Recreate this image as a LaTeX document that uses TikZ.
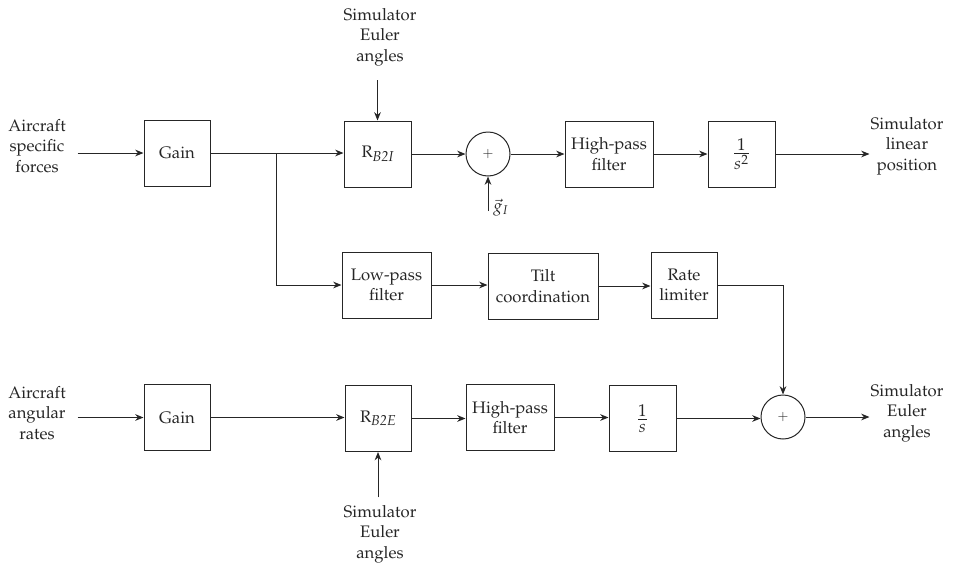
\documentclass[tikz,border=0pt]{standalone}
\usepackage[T1]{fontenc}
\usepackage{mathpazo}
\usetikzlibrary{arrows.meta}
\newcommand\rsubx[1]{R\raisebox{-0.45ex}{\fontsize{8.6}{10}\selectfont\itshape #1}}
\newcommand\fracx[2]{{\fontsize{13.5}{15}\selectfont$\frac{#1}{#2}$}}
\begin{document}
\begin{tikzpicture}[x=0.6pt,y=-0.6pt,
  every node/.style={font=\fontsize{10}{12.3}\selectfont, text=black!85},
  blk/.style={draw=black!85, line width=0.6pt, align=center, inner sep=0pt, minimum height=39.6pt},
  sumnode/.style={draw=black!85, line width=0.6pt, circle, inner sep=0pt, minimum size=26.4pt, font=\fontsize{8}{9}\selectfont},
  lbl/.style={align=center, inner sep=0pt},
  arr/.style={draw=black!85, line width=0.6pt, -{Stealth[length=5pt,width=4pt]}},
  ln/.style={draw=black!85, line width=0.6pt}]
\useasboundingbox (0,0) rectangle (954,564);
% top row
\node[lbl, inner xsep=7pt] (in1) at (37,146) {Aircraft\\specific\\forces};
\node[blk, minimum width=39.6pt] (gain1) at (177,153) {Gain};
\node[blk, minimum width=40.2pt] (rb2i) at (377.5,154) {\rsubx{B2I}};
\node[lbl, inner ysep=8.5pt] (eul1) at (380,37) {Simulator\\Euler\\angles};
\node[sumnode] (sum1) at (488,154) {$+$};
\node[blk, minimum width=52.8pt] (hp1) at (609,154) {High-pass\\filter};
\node[blk, minimum width=40.2pt] (s2) at (741.5,154) {\fracx{1}{s^2}};
\node[lbl, inner xsep=0.5pt] (out1) at (907,146) {Simulator\\linear\\position};
\coordinate (gin) at (488,211);
\node[anchor=west, inner sep=0pt] (glbl) at (493,208) {$\vec{g}_I$};
\coordinate (br) at (276,153);
% middle row
\node[blk, minimum width=53.4pt] (lp) at (386.5,285) {Low-pass\\filter};
\node[blk, minimum width=66pt] (tilt) at (543,286) {Tilt\\coordination};
\node[blk, minimum width=39.6pt] (rate) at (684,285) {Rate\\limiter};
% bottom row
\node[lbl, inner xsep=7pt] (in2) at (37,413) {Aircraft\\angular\\rates};
\node[blk, minimum width=39.6pt] (gain2) at (177,417.5) {Gain};
\node[blk, minimum width=39.6pt] (rb2e) at (378,418.5) {\rsubx{B2E}};
\node[lbl, inner ysep=4.5pt] (eul2) at (380,534) {Simulator\\Euler\\angles};
\node[blk, minimum width=52.8pt] (hp2) at (510,417.5) {High-pass\\filter};
\node[blk, minimum width=40.2pt] (s1) at (642.5,418.5) {\fracx{1}{s}};
\node[sumnode] (sum2) at (783,417) {$+$};
\node[lbl, inner xsep=0.5pt] (out2) at (907,413) {Simulator\\Euler\\angles};
% connectors top
\draw[arr] (in1.east |- gain1.west) -- (gain1.west);
\draw[arr] (gain1.east) -- (gain1.east -| rb2i.west);
\draw[arr] (eul1.south -| rb2i.north) -- (rb2i.north);
\draw[arr] (rb2i.east) -- (sum1.west);
\draw[arr] (gin) -- (sum1.south);
\draw[arr] (sum1.east) -- (hp1.west);
\draw[arr] (hp1.east) -- (s2.west);
\draw[arr] (s2.east) -- (s2.east -| out1.west);
% middle
\draw[arr] (br) |- (lp.west);
\draw[arr] (lp.east) -- (lp.east -| tilt.west);
\draw[arr] (tilt.east) -- (tilt.east -| rate.west);
\draw[arr] (rate.east) -| (sum2.north);
% bottom
\draw[arr] (in2.east |- gain2.west) -- (gain2.west);
\draw[arr] (gain2.east) -- (gain2.east -| rb2e.west);
\draw[arr] (eul2.north -| rb2e.south) -- (rb2e.south);
\draw[arr] (rb2e.east) -- (rb2e.east -| hp2.west);
\draw[arr] (hp2.east) -- (hp2.east -| s1.west);
\draw[arr] (s1.east) -- (s1.east -| sum2.west);
\draw[arr] (sum2.east) -- (sum2.east -| out2.west);
\end{tikzpicture}
\end{document}
